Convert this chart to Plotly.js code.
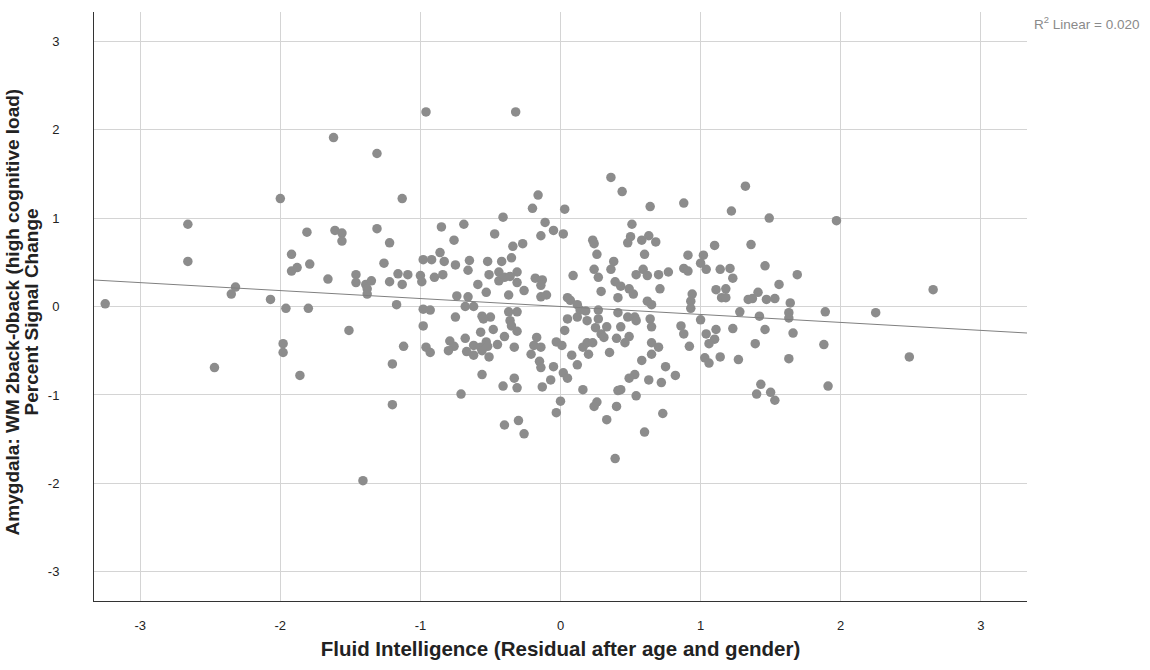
<!DOCTYPE html>
<html>
<head>
<meta charset="utf-8">
<script src="https://cdn.plot.ly/plotly-3.0.1.min.js"></script>
<style>
html,body{margin:0;padding:0;background:#fff;}
#chart{width:1150px;height:670px;}
</style>
</head>
<body>
<div id="chart"></div>
<script>
// Fluid Intelligence residual (x) and Amygdala percent signal change (y)
const fluidIntelligence = [
-2.66,-2.66,-2.32,-2.35,-3.25,-2.47,
-1.62,-1.31,-2.00,-1.13,-1.81,-1.61,-1.56,-1.56,-1.31,-1.22,-1.92,-1.92,-1.88,-1.79,
-1.66,-1.46,-1.46,-1.39,-1.35,-1.38,-1.38,-1.26,-1.22,-1.16,-1.13,-1.09,-2.07,-1.96,
-1.80,-1.17,-1.51,-1.98,-1.98,-1.12,-1.20,-1.86,-1.20,-1.41,
-0.96,-0.32,-0.16,-0.20,-0.41,-0.11,-0.05,-0.14,-0.85,-0.69,-0.76,-0.47,-0.34,-0.27,
-0.35,-0.86,-0.83,-0.98,-0.92,-0.75,-0.65,-0.66,-0.52,-0.42,-0.31,-1.00,-0.99,-0.90,
-0.84,-0.59,-0.51,-0.44,-0.44,-0.40,-0.36,-0.31,-0.53,-0.26,-0.37,-0.18,-0.13,-0.14,
-0.14,-0.10,-0.74,-0.66,-0.98,-0.93,-0.68,-0.62,-0.75,-0.56,-0.50,-0.55,-0.37,-0.31,
-0.36,-0.35,-0.31,-0.98,-0.57,-0.48,-0.40,-0.96,-0.93,-0.79,-0.76,-0.80,-0.68,-0.67,
-0.62,-0.62,-0.57,-0.53,-0.52,-0.56,-0.45,-0.51,-0.33,-0.17,-0.19,-0.14,-0.21,-0.15,
-0.14,-0.05,-0.07,-0.13,-0.56,-0.33,-0.31,-0.41,-0.71,-0.40,-0.30,-0.26,
0.36,0.44,0.64,0.88,0.03,0.02,0.51,0.50,0.48,0.58,0.63,0.68,0.23,0.24,0.26,0.60,
0.91,1.02,1.00,1.04,0.88,0.91,0.38,0.36,0.24,0.27,0.09,0.39,0.43,0.54,0.59,0.62,
0.70,0.77,0.71,0.29,0.49,0.52,0.41,0.05,0.07,0.12,0.62,0.65,0.94,0.93,0.93,0.14,
0.18,0.27,0.12,0.05,0.19,0.27,0.41,0.48,0.53,0.54,0.64,0.65,1.00,0.86,0.88,1.04,
0.25,0.33,0.43,0.03,0.29,0.31,0.40,0.49,0.46,-0.03,0.01,0.16,0.19,0.23,0.20,0.35,
0.65,0.70,0.65,0.92,0.08,0.12,0.02,0.05,0.58,0.75,0.82,0.72,0.63,0.53,0.49,0.16,
0.43,0.41,0.54,0.00,-0.03,0.26,0.24,0.40,0.33,0.73,0.60,0.39,1.03,
1.32,1.22,1.49,1.97,1.10,1.36,1.14,1.21,1.23,1.46,1.69,1.56,1.11,1.18,1.15,1.18,
1.34,1.37,1.41,1.47,1.53,1.64,1.63,1.63,1.89,1.28,1.42,1.11,1.10,1.06,1.23,1.46,
1.66,1.39,1.88,1.06,1.14,1.27,1.63,1.43,1.40,1.50,1.53,1.91,
2.66,2.25,2.49
];
const signalChange = [
0.93,0.51,0.22,0.14,0.03,-0.69,
1.91,1.73,1.22,1.22,0.84,0.86,0.83,0.74,0.88,0.72,0.59,0.40,0.44,0.48,
0.31,0.36,0.27,0.25,0.29,0.20,0.14,0.49,0.28,0.37,0.25,0.36,0.08,-0.02,
-0.02,0.02,-0.27,-0.42,-0.52,-0.45,-0.65,-0.78,-1.11,-1.97,
2.20,2.20,1.26,1.11,1.01,0.95,0.86,0.80,0.90,0.93,0.75,0.82,0.68,0.71,
0.55,0.61,0.51,0.53,0.53,0.47,0.52,0.41,0.51,0.51,0.39,0.35,0.28,0.33,
0.36,0.25,0.36,0.39,0.29,0.33,0.34,0.27,0.16,0.18,0.13,0.32,0.30,0.24,
0.11,0.13,0.12,0.11,-0.03,-0.04,0.00,0.00,-0.12,-0.11,-0.12,-0.14,-0.06,-0.06,
-0.16,-0.22,-0.28,-0.22,-0.29,-0.26,-0.34,-0.46,-0.52,-0.39,-0.45,-0.50,-0.36,-0.51,
-0.44,-0.55,-0.46,-0.40,-0.45,-0.50,-0.43,-0.57,-0.46,-0.35,-0.44,-0.46,-0.54,-0.62,
-0.69,-0.68,-0.83,-0.91,-0.77,-0.81,-0.92,-0.90,-0.99,-1.34,-1.29,-1.44,
1.46,1.30,1.13,1.17,1.10,0.82,0.93,0.79,0.72,0.75,0.80,0.73,0.75,0.71,0.59,0.59,
0.58,0.58,0.49,0.42,0.43,0.40,0.51,0.42,0.42,0.33,0.35,0.28,0.23,0.36,0.42,0.35,
0.36,0.39,0.20,0.17,0.20,0.14,0.10,0.10,0.07,0.02,0.06,0.02,0.14,0.06,-0.02,-0.04,
-0.05,-0.04,-0.12,-0.14,-0.16,-0.14,-0.07,-0.12,-0.12,-0.16,-0.14,-0.23,-0.15,-0.22,-0.31,-0.31,
-0.24,-0.23,-0.23,-0.27,-0.31,-0.35,-0.36,-0.34,-0.41,-0.40,-0.44,-0.46,-0.41,-0.41,-0.54,-0.52,
-0.41,-0.46,-0.54,-0.45,-0.55,-0.66,-0.75,-0.81,-0.61,-0.68,-0.78,-0.86,-0.83,-0.77,-0.81,-0.94,
-0.94,-0.95,-1.01,-1.07,-1.20,-1.08,-1.13,-1.13,-1.28,-1.21,-1.42,-1.72,-0.58,
1.36,1.08,1.00,0.97,0.69,0.70,0.42,0.43,0.32,0.46,0.36,0.25,0.19,0.20,0.10,0.10,
0.08,0.09,0.16,0.08,0.09,0.04,-0.07,-0.13,-0.06,-0.06,-0.11,-0.26,-0.37,-0.42,-0.25,-0.26,
-0.30,-0.42,-0.43,-0.64,-0.57,-0.60,-0.59,-0.88,-0.99,-0.97,-1.06,-0.90,
0.19,-0.07,-0.57
];

// Linear fit (R2 Linear = 0.020)
const fitIntercept = 0.0;
const fitSlope = -0.09;
const axisRange = [-3.33, 3.33];
const fitX = axisRange.slice();
const fitY = fitX.map(v => fitIntercept + fitSlope * v);

const tickValues = [-3, -2, -1, 0, 1, 2, 3];
const tickLabels = ["-3", "-2", "-1", "0", "1", "2", "3"];

const xTitle = "Fluid Intelligence (Residual after age and gender)";
const yTitleLines = ["Amygdala: WM 2back-0back (high cognitive load)", "Percent Signal Change"];
const fitLabel = "R<sup>2</sup> Linear = 0.020";

const fontFam = "Liberation Sans, Arial, sans-serif";

const traces = [
  {
    type: "scatter", mode: "markers",
    x: fluidIntelligence, y: signalChange,
    marker: {color: "#8c8c8c", size: 9.5, line: {width: 0}},
    hoverinfo: "x+y", showlegend: false
  },
  {
    type: "scatter", mode: "lines",
    x: fitX, y: fitY,
    line: {color: "#808080", width: 1},
    hoverinfo: "skip", showlegend: false
  }
];

const layout = {
  width: 1150, height: 670,
  paper_bgcolor: "#ffffff", plot_bgcolor: "#ffffff",
  margin: {l: 94, r: 123, t: 12, b: 69},
  font: {family: fontFam, size: 13, color: "#222"},
  showlegend: false,
  xaxis: {
    range: axisRange, tickvals: tickValues, ticktext: tickLabels,
    showgrid: true, gridcolor: "#d4d4d4", gridwidth: 1, zeroline: false,
    showline: true, linecolor: "#333", linewidth: 1, mirror: false,
    ticks: "outside", ticklen: 12, tickcolor: "rgba(0,0,0,0)",
    tickfont: {family: fontFam, size: 13, color: "#222"},
    title: {text: "<b>" + xTitle + "</b>",
            font: {family: fontFam, size: 20.5, color: "#222"}, standoff: 10},
    automargin: false
  },
  yaxis: {
    range: axisRange, tickvals: tickValues, ticktext: tickLabels,
    showgrid: true, gridcolor: "#d4d4d4", gridwidth: 1, zeroline: false,
    showline: true, linecolor: "#333", linewidth: 1, mirror: false,
    ticks: "outside", ticklen: 31, tickcolor: "rgba(0,0,0,0)",
    tickfont: {family: fontFam, size: 13, color: "#222"},
    title: {text: "", font: {family: fontFam, size: 19, color: "#222"}},
    automargin: false
  },
  annotations: [
    {
      xref: "paper", yref: "paper", x: 1.005, y: 1.0, xanchor: "left", yanchor: "top",
      text: fitLabel, showarrow: false,
      font: {family: fontFam, size: 13.5, color: "#8a8a8a"}
    },
    {
      xref: "paper", yref: "paper", x: (12 - 94) / 933, y: 0.49, xanchor: "center", yanchor: "middle",
      text: "<b>" + yTitleLines[0] + "</b>", textangle: -90, showarrow: false,
      font: {family: fontFam, size: 19, color: "#222"}
    },
    {
      xref: "paper", yref: "paper", x: (31 - 94) / 933, y: 0.49, xanchor: "center", yanchor: "middle",
      text: "<b>" + yTitleLines[1] + "</b>", textangle: -90, showarrow: false,
      font: {family: fontFam, size: 19, color: "#222"}
    }
  ]
};

Plotly.newPlot("chart", traces, layout, {displayModeBar: false, staticPlot: true});
</script>
</body>
</html>
